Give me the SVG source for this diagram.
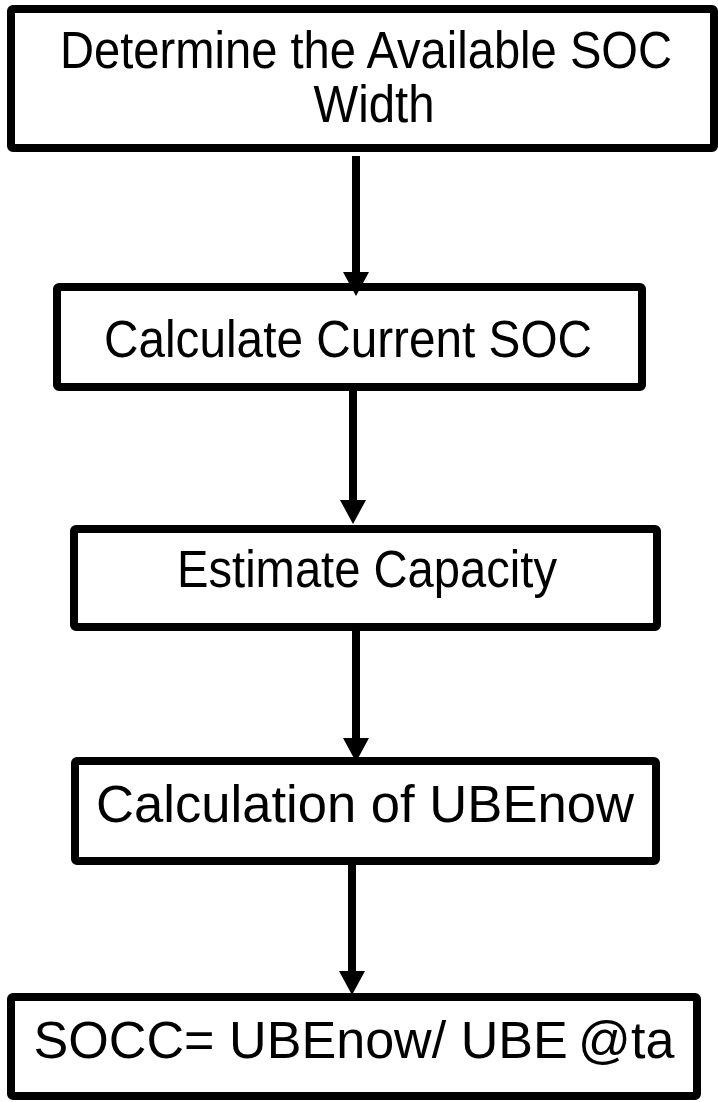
<svg xmlns="http://www.w3.org/2000/svg" width="718" height="1102" viewBox="0 0 718 1102">
<defs>
<style>
.box{fill:#fff;stroke:#000;stroke-width:8;stroke-linejoin:round}
.lbl{font-family:"Liberation Sans",Arial,sans-serif;font-size:51px;fill:#000;text-anchor:middle}
.conn{stroke:#000;stroke-width:8;fill:none}
.head{fill:#000}
</style>
<path id="head" class="head" d="M-13,0 L13,0 L0,24 Z"/>
</defs>
<rect width="718" height="1102" fill="#fff"/>
<g id="n1"><rect class="box" x="11" y="9" width="703" height="139" rx="2"/>
<text class="lbl" x="366" y="68" textLength="612" lengthAdjust="spacingAndGlyphs">Determine the Available SOC</text>
<text class="lbl" x="374" y="122" textLength="121" lengthAdjust="spacingAndGlyphs">Width</text></g>
<g id="n2"><rect class="box" x="57" y="287" width="585" height="100" rx="2"/>
<text class="lbl" x="348" y="357" textLength="488" lengthAdjust="spacingAndGlyphs">Calculate Current SOC</text></g>
<g id="n3"><rect class="box" x="74" y="529" width="583" height="98" rx="2"/>
<text class="lbl" x="367" y="587" textLength="380" lengthAdjust="spacingAndGlyphs">Estimate Capacity</text></g>
<g id="n4"><rect class="box" x="75" y="761" width="581" height="100" rx="2"/>
<text class="lbl" x="365" y="822" textLength="538" lengthAdjust="spacingAndGlyphs">Calculation of UBEnow</text></g>
<g id="n5"><rect class="box" x="11" y="997" width="686" height="99" rx="2"/>
<text class="lbl" x="354" y="1058" textLength="641" lengthAdjust="spacingAndGlyphs">SOCC= UBEnow/ UBE<tspan dx="10">@</tspan>ta</text></g>
<g id="connectors">
<line class="conn" x1="356" y1="156" x2="356" y2="273"/>
<use href="#head" x="356" y="272"/>
<line class="conn" x1="353" y1="391" x2="353" y2="501"/>
<use href="#head" x="353" y="500"/>
<line class="conn" x1="356" y1="631" x2="356" y2="739"/>
<use href="#head" x="356" y="738"/>
<line class="conn" x1="352" y1="865" x2="352" y2="972"/>
<use href="#head" x="352" y="971"/>
</g>
</svg>
